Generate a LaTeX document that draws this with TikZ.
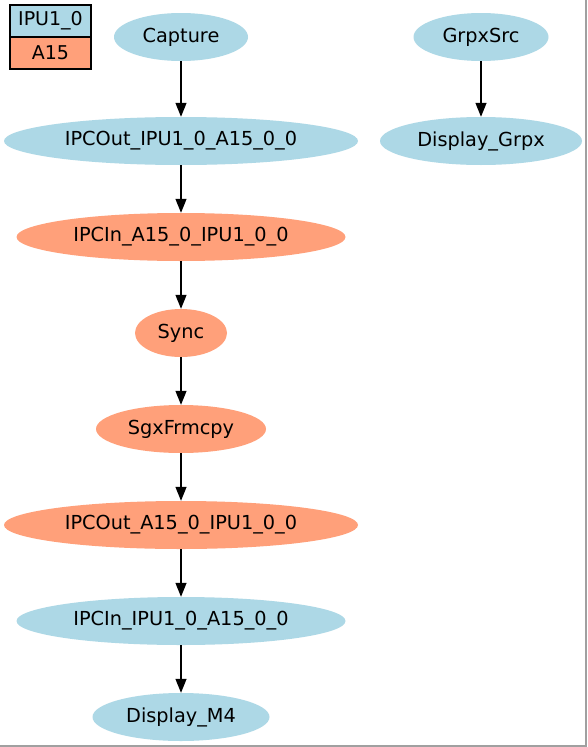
\documentclass[tikz,border=0pt]{standalone}
\usepackage{fontspec}
\setmainfont{DejaVu Sans}
\usetikzlibrary{shapes.geometric,arrows.meta}
\definecolor{ipublue}{HTML}{ADD8E6}
\definecolor{asalmon}{HTML}{FFA07A}
\definecolor{framegray}{HTML}{A0A0A0}
\tikzset{
  gnode/.style={ellipse, inner sep=0pt, minimum height=48pt, font=\fontsize{19.3}{23}\selectfont},
  bluenode/.style={gnode, fill=ipublue},
  salmonnode/.style={gnode, fill=asalmon},
  edge/.style={line width=1.3pt, -{Triangle[length=14pt,width=11pt]}},
  legendbox/.style={draw=black, line width=1.2pt, inner sep=0pt, minimum width=81pt, minimum height=32pt, font=\fontsize{19}{23}\selectfont}
}
\begin{document}
\begin{tikzpicture}[x=1pt,y=-1pt]
\useasboundingbox (0,0) rectangle (587,747);
\fill[white] (0,0) rectangle (587,747);
\draw[framegray, line width=1.5pt] (586,0) -- (586,746) -- (0,746);
% legend
\node[legendbox, fill=ipublue] (lg1) at (50.5,21) {IPU1\_0};
\node[legendbox, fill=asalmon] (lg2) at (50.5,53) {A15};
% nodes
\node[bluenode, minimum width=134pt] (capture) at (181,37) {Capture};
\node[bluenode, minimum width=354pt] (ipcout1) at (181,141) {IPCOut\_IPU1\_0\_A15\_0\_0};
\node[salmonnode, minimum width=329pt] (ipcin1) at (181,237) {IPCIn\_A15\_0\_IPU1\_0\_0};
\node[salmonnode, minimum width=92pt] (sync) at (181,333) {Sync};
\node[salmonnode, minimum width=170pt] (sgx) at (181,429) {SgxFrmcpy};
\node[salmonnode, minimum width=354pt] (ipcout2) at (181,525) {IPCOut\_A15\_0\_IPU1\_0\_0};
\node[bluenode, minimum width=329pt] (ipcin2) at (181,621) {IPCIn\_IPU1\_0\_A15\_0\_0};
\node[bluenode, minimum width=177pt] (dispm4) at (181,717) {Display\_M4};
\node[bluenode, minimum width=135pt] (grpx) at (481,37) {GrpxSrc};
\node[bluenode, minimum width=202pt] (dispgrpx) at (481,141) {Display\_Grpx};
% edges
\draw[edge] (capture) -- (ipcout1);
\draw[edge] (ipcout1) -- (ipcin1);
\draw[edge] (ipcin1) -- (sync);
\draw[edge] (sync) -- (sgx);
\draw[edge] (sgx) -- (ipcout2);
\draw[edge] (ipcout2) -- (ipcin2);
\draw[edge] (ipcin2) -- (dispm4);
\draw[edge] (grpx) -- (dispgrpx);
\end{tikzpicture}
\end{document}
